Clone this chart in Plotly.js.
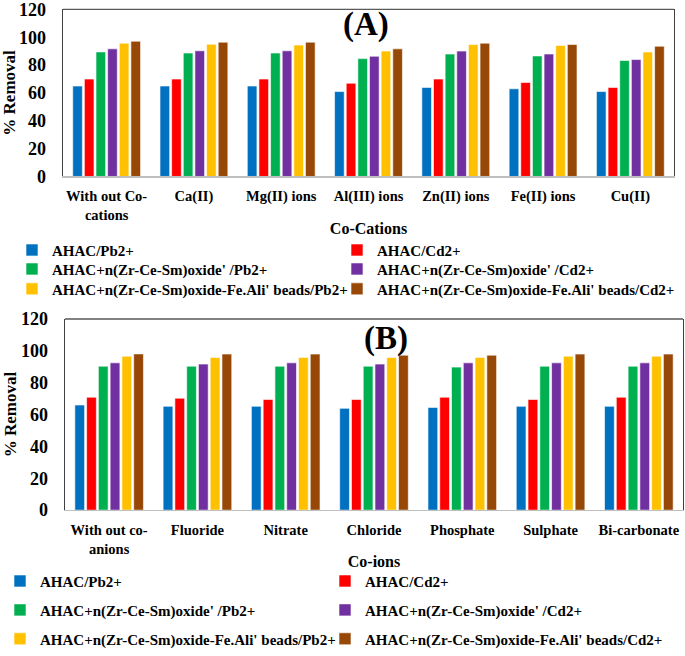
<!DOCTYPE html>
<html><head><meta charset="utf-8">
<script src="https://cdn.plot.ly/plotly-3.0.1.min.js"></script>
<style>html,body{margin:0;padding:0;background:#fff}</style>
</head><body><div id="chart" style="width:685px;height:656px"></div>
<script>
// ---- data ----
const cationCategories = ["With out Co-<br>cations","Ca(II)","Mg(II) ions","Al(III) ions","Zn(II) ions","Fe(II) ions","Cu(II)"];
const anionCategories = ["With out co-<br>anions","Fluoride","Nitrate","Chloride","Phosphate","Sulphate","Bi-carbonate"];
const seriesNames = ["AHAC/Pb2+","AHAC/Cd2+","AHAC+n(Zr-Ce-Sm)oxide' /Pb2+","AHAC+n(Zr-Ce-Sm)oxide' /Cd2+","AHAC+n(Zr-Ce-Sm)oxide-Fe.Ali' beads/Pb2+","AHAC+n(Zr-Ce-Sm)oxide-Fe.Ali' beads/Cd2+"];
const seriesColors = ["#0070C0","#FF0000","#00B050","#7030A0","#FFC000","#974706"];

// Panel A: co-cations
const catAHAC_Pb   = [65, 65, 65, 61, 64, 63, 61];
const catAHAC_Cd   = [70, 70, 70, 67, 70, 67.5, 64];
const catOxide_Pb  = [89.5, 88.7, 88.7, 84.7, 88, 86.6, 83.3];
const catOxide_Cd  = [91.7, 90.3, 90.3, 86.4, 90.1, 88, 84];
const catBeads_Pb  = [95.8, 95, 94.4, 90.1, 94.8, 94.1, 89.4];
const catBeads_Cd  = [97.2, 96.5, 96.5, 91.7, 95.8, 94.8, 93.6];

// Panel B: co-anions
const anAHAC_Pb  = [66, 65.2, 65.2, 63.9, 64.5, 65.2, 65.2];
const anAHAC_Cd  = [70.9, 70.3, 69.5, 69.5, 70.9, 69.5, 70.9];
const anOxide_Pb = [90.4, 90.4, 90.4, 90.4, 89.8, 90.4, 90.4];
const anOxide_Cd = [92.5, 91.7, 92.5, 91.7, 92.5, 92.5, 92.5];
const anBeads_Pb = [96.7, 95.9, 95.9, 95.9, 95.9, 96.7, 96.7];
const anBeads_Cd = [98.1, 98, 98, 97.3, 97.3, 98, 98];

const yTickVals = [0,20,40,60,80,100,120];

// ---- layout helpers ----
const W = 685, H = 656;
const px = v => v / W;
const py = v => 1 - v / H;
const FAM = "Liberation Serif, Times New Roman, serif";
const f = (size) => ({family: FAM, size: size, color: "#000", weight: "bold"});

const seriesA = [catAHAC_Pb, catAHAC_Cd, catOxide_Pb, catOxide_Cd, catBeads_Pb, catBeads_Cd];
const seriesB = [anAHAC_Pb, anAHAC_Cd, anOxide_Pb, anOxide_Cd, anBeads_Pb, anBeads_Cd];

// legend positions (pixels): [x of legend box, y centre of row]
const legPosA = [[12,251],[337,251],[12,270],[337,270],[12,290],[337,290]];
const legPosB = [[0,583],[325,583],[0,612],[325,612],[0,641],[325,641]];

const traces = [];
const layout = {
  width: W, height: H,
  margin: {l:0, r:0, t:0, b:0},
  paper_bgcolor: "#fff", plot_bgcolor: "#fff",
  showlegend: true,
  barmode: "group", bargap: 0.2, bargroupgap: 0.17,
  font: f(14),
  annotations: [
    {text: "(A)", xref: "paper", yref: "paper", x: px(366), y: py(25), xanchor: "center", yanchor: "middle", showarrow: false, font: f(33)},
    {text: "(B)", xref: "paper", yref: "paper", x: px(386), y: py(340), xanchor: "center", yanchor: "middle", showarrow: false, font: f(33)}
  ],
  shapes: [
    {type: "line", xref: "x domain", yref: "y domain", x0: 0, x1: 1, y0: 1, y1: 1, line: {color: "#595959", width: 1.3}},
    {type: "line", xref: "x2 domain", yref: "y2 domain", x0: 0, x1: 1, y0: 1, y1: 1, line: {color: "#595959", width: 1.3}}
  ]
};

function axisPair(idx, cats, xdom, ydom, xtitle, ystand) {
  const xs = idx === 1 ? "xaxis" : "xaxis" + idx;
  const ys = idx === 1 ? "yaxis" : "yaxis" + idx;
  layout[xs] = {
    domain: xdom, anchor: idx === 1 ? "y" : "y" + idx,
    type: "category", categoryorder: "array", categoryarray: cats,
    showline: true, linecolor: "#BFBFBF", linewidth: 1.3,
    showgrid: false, zeroline: false, ticks: "", ticklabelstandoff: 6,
    tickfont: f(14.5), automargin: false,
    title: {text: xtitle, font: f(16), standoff: 0}
  };
  layout[ys] = {
    domain: ydom, anchor: idx === 1 ? "x" : "x" + idx,
    range: [0, 120], tickvals: yTickVals, ticktext: yTickVals.map(String),
    showline: true, mirror: true, linecolor: "#404040", linewidth: 1.3,
    showgrid: false, zeroline: false, ticks: "", ticklabelstandoff: 12,
    ticklabeloverflow: "allow",
    tickfont: f(18), automargin: false,
    title: {text: "% Removal", font: f(17), standoff: ystand}
  };
}
axisPair(1, cationCategories, [px(63), px(674)], [py(177), py(9.5)], "Co-Cations", 3);
axisPair(2, anionCategories, [px(65), px(683)], [py(511.7), py(320)], "Co-ions", 0);

function addPanel(series, cats, xa, ya, legPos, legOffset) {
  series.forEach((vals, i) => {
    const n = legOffset + i + 1;
    const lid = n === 1 ? "legend" : "legend" + n;
    traces.push({
      type: "bar", x: cats, y: vals, name: seriesNames[i],
      xaxis: xa, yaxis: ya, legend: lid,
      marker: {color: seriesColors[i], line: {color: "#ffffff", width: 0.6}},
      hoverinfo: "x+y+name"
    });
    layout[lid] = {
      visible: true,
      x: px(legPos[i][0]), y: py(legPos[i][1]), xanchor: "left", yanchor: "middle",
      bgcolor: "rgba(0,0,0,0)", borderwidth: 0, font: f(15), orientation: "v"
    };
  });
}
addPanel(seriesA, cationCategories, "x", "y", legPosA, 0);
addPanel(seriesB, anionCategories, "x2", "y2", legPosB, 6);

Plotly.newPlot("chart", traces, layout, {displayModeBar: false, staticPlot: true});
</script>
</body></html>
